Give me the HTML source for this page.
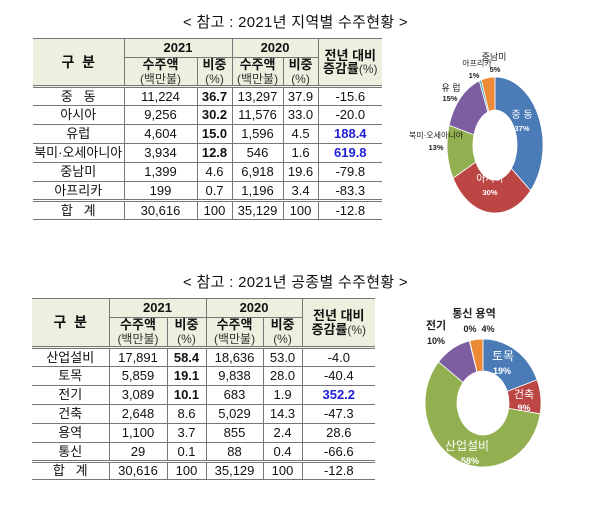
<!DOCTYPE html>
<html><head><meta charset="utf-8">
<style>
body{margin:0;width:600px;height:515px;background:#fff;position:relative;overflow:hidden;font-family:"Liberation Sans","Noto Sans CJK KR",sans-serif;color:#111}
.title{position:absolute;font-size:15px;white-space:nowrap;letter-spacing:0.3px}
table{position:absolute;border-collapse:collapse;table-layout:fixed;font-size:13px}
td{border:1px solid #777;text-align:center;padding:0;line-height:1.05;white-space:nowrap}
tr td:first-child{border-left:none}
tr td:last-child{border-right:none}
.hd td{background:#ebf1de;font-weight:bold}
.hd small{font-weight:normal;font-size:12px;color:#333}
.b{font-weight:bold}
.blue{color:#1f1fd6;font-weight:bold}
.hb td{border-bottom:3px double #777}
.tot td{border-top:3px double #777}
</style></head><body>
<div class="title" style="left:183px;top:11px">&lt; 참고 : 2021년 지역별 수주현황 &gt;</div>
<table style="left:33px;top:38px;width:349px">
<colgroup><col style="width:91px"><col style="width:73px"><col style="width:35px"><col style="width:51px"><col style="width:35px"><col style="width:64px"></colgroup>
<tr class="hd" style="height:19px"><td rowspan="2" style="border-bottom:3px double #777;font-size:14px">구 &nbsp;분</td><td colspan="2">2021</td><td colspan="2">2020</td><td rowspan="2" style="border-bottom:3px double #777">전년 대비<br>증감률<small>(%)</small></td></tr>
<tr class="hd hb" style="height:29px"><td>수주액<br><small>(백만불)</small></td><td>비중<br><small>(%)</small></td><td>수주액<br><small>(백만불)</small></td><td>비중<br><small>(%)</small></td></tr>
<tr style="height:19px"><td>중 &nbsp;&nbsp;동</td><td>11,224</td><td class="b">36.7</td><td>13,297</td><td>37.9</td><td>-15.6</td></tr>
<tr style="height:19px"><td>아시아</td><td>9,256</td><td class="b">30.2</td><td>11,576</td><td>33.0</td><td>-20.0</td></tr>
<tr style="height:19px"><td>유럽</td><td>4,604</td><td class="b">15.0</td><td>1,596</td><td>4.5</td><td class="blue">188.4</td></tr>
<tr style="height:19px"><td>북미·오세아니아</td><td>3,934</td><td class="b">12.8</td><td>546</td><td>1.6</td><td class="blue">619.8</td></tr>
<tr style="height:19px"><td>중남미</td><td>1,399</td><td>4.6</td><td>6,918</td><td>19.6</td><td>-79.8</td></tr>
<tr style="height:19px"><td>아프리카</td><td>199</td><td>0.7</td><td>1,196</td><td>3.4</td><td>-83.3</td></tr>
<tr class="tot" style="height:19px"><td>합 &nbsp;&nbsp;계</td><td>30,616</td><td>100</td><td>35,129</td><td>100</td><td>-12.8</td></tr>
</table>

<div class="title" style="left:183px;top:271px">&lt; 참고 : 2021년 공종별 수주현황 &gt;</div>
<table style="left:32px;top:298px;width:343px">
<colgroup><col style="width:77px"><col style="width:58px"><col style="width:39px"><col style="width:57px"><col style="width:39px"><col style="width:73px"></colgroup>
<tr class="hd" style="height:19px"><td rowspan="2" style="border-bottom:3px double #777;font-size:14px">구 &nbsp;분</td><td colspan="2">2021</td><td colspan="2">2020</td><td rowspan="2" style="border-bottom:3px double #777">전년 대비<br>증감률<small>(%)</small></td></tr>
<tr class="hd hb" style="height:30px"><td>수주액<br><small>(백만불)</small></td><td>비중<br><small>(%)</small></td><td>수주액<br><small>(백만불)</small></td><td>비중<br><small>(%)</small></td></tr>
<tr style="height:19px"><td>산업설비</td><td>17,891</td><td class="b">58.4</td><td>18,636</td><td>53.0</td><td>-4.0</td></tr>
<tr style="height:19px"><td>토목</td><td>5,859</td><td class="b">19.1</td><td>9,838</td><td>28.0</td><td>-40.4</td></tr>
<tr style="height:19px"><td>전기</td><td>3,089</td><td class="b">10.1</td><td>683</td><td>1.9</td><td class="blue">352.2</td></tr>
<tr style="height:19px"><td>건축</td><td>2,648</td><td>8.6</td><td>5,029</td><td>14.3</td><td>-47.3</td></tr>
<tr style="height:19px"><td>용역</td><td>1,100</td><td>3.7</td><td>855</td><td>2.4</td><td>28.6</td></tr>
<tr style="height:19px"><td>통신</td><td>29</td><td>0.1</td><td>88</td><td>0.4</td><td>-66.6</td></tr>
<tr class="tot" style="height:18px"><td>합 &nbsp;&nbsp;계</td><td>30,616</td><td>100</td><td>35,129</td><td>100</td><td>-12.8</td></tr>
</table>

<svg id="charts" width="600" height="515" style="position:absolute;left:0;top:0"></svg>
<script>
const regionNames=["중동","아시아","북미·오세아니아","유럽","아프리카","중남미"];
const regionValues=[36.7,30.2,12.8,15.0,0.7,4.6];
const regionColors=["#4a7bb7","#bb4643","#93b050","#7d5ea1","#3e9db4","#ec8a38"];
const workNames=["토목","건축","산업설비","전기","통신","용역"];
const workValues=[19.1,8.6,58.4,10.1,0.1,3.7];
const workColors=["#4a7bb7","#bb4643","#93b050","#7d5ea1","#3e9db4","#ec8a38"];
const NS="http://www.w3.org/2000/svg";
const svg=document.getElementById('charts');
function donut(name,values,colors,cx,cy,rx,ry,irx,iry){
  const g=document.createElementNS(NS,'g');
  
  
  svg.appendChild(g);
  const total=values.reduce((a,b)=>a+b,0);
  let a0=0;
  values.forEach((v,i)=>{
    const a1=a0+v/total*Math.PI*2;
    const pt=(a,r1,r2)=>[cx+r1*Math.sin(a),cy-r2*Math.cos(a)];
    const large=(a1-a0)>Math.PI?1:0;
    const [x0,y0]=pt(a0,rx,ry),[x1,y1]=pt(a1,rx,ry),[x2,y2]=pt(a1,irx,iry),[x3,y3]=pt(a0,irx,iry);
    const p=document.createElementNS(NS,'path');
    p.setAttribute('d',`M${x0},${y0}A${rx},${ry} 0 ${large} 1 ${x1},${y1}L${x2},${y2}A${irx},${iry} 0 ${large} 0 ${x3},${y3}Z`);
    p.setAttribute('fill',colors[i]);
    p.setAttribute('stroke','#fff');
    p.setAttribute('stroke-width','0.8');
    
    
    g.appendChild(p);
    a0=a1;
  });
}
donut('region-donut',regionValues,regionColors,495,145,48,68,22,35);
donut('work-donut',workValues,workColors,483,403,58,64,26,32);
function label(t,x,y,size,color,bold){
  const e=document.createElementNS(NS,'text');
  e.setAttribute('x',x);e.setAttribute('y',y);
  e.setAttribute('font-size',size);e.setAttribute('fill',color);
  e.setAttribute('text-anchor','middle');
  if(bold)e.setAttribute('font-weight','bold');
  e.setAttribute('font-family','"Liberation Sans","Noto Sans CJK KR",sans-serif');
  e.textContent=t;
  
  
  svg.appendChild(e);
}
const pct=v=>Math.round(v)+'%';
label(regionNames[0].split('').join(' '),522,118,10,'#fff');label(pct(regionValues[0]),522,131,7.5,'#fff',1);
label(regionNames[1],490,182,10,'#fff');label(pct(regionValues[1]),490,195,7.5,'#fff',1);
label(regionNames[2],436,138,8,'#222');label(pct(regionValues[2]),436,150,7.5,'#222',1);
label('유 럽',451,91,9,'#222');label(pct(regionValues[3]),450,101,7.5,'#222',1);
label(regionNames[4],477,66,8,'#222');label(pct(regionValues[4]),474,78,7.5,'#222',1);
label(regionNames[5],494,60,9,'#222');label(pct(regionValues[5]),495,72,7.5,'#222',1);
label(workNames[4]+' '+workNames[5],474,317,11,'#222',1);
label(pct(workValues[4]),470,332,9,'#222',1);label(pct(workValues[5]),488,332,9,'#222',1);
label(workNames[3],436,329,11,'#222',1);label(pct(workValues[3]),436,344,9,'#222',1);
label(workNames[0],503,360,12,'#fff');label(pct(workValues[0]),502,374,9,'#fff',1);
label(workNames[1],524,398,11,'#fff');label(pct(workValues[1]),524,411,9,'#fff',1);
label(workNames[2],467,450,12,'#fff');label(pct(workValues[2]),470,464,9,'#fff',1);
</script>
</body></html>
